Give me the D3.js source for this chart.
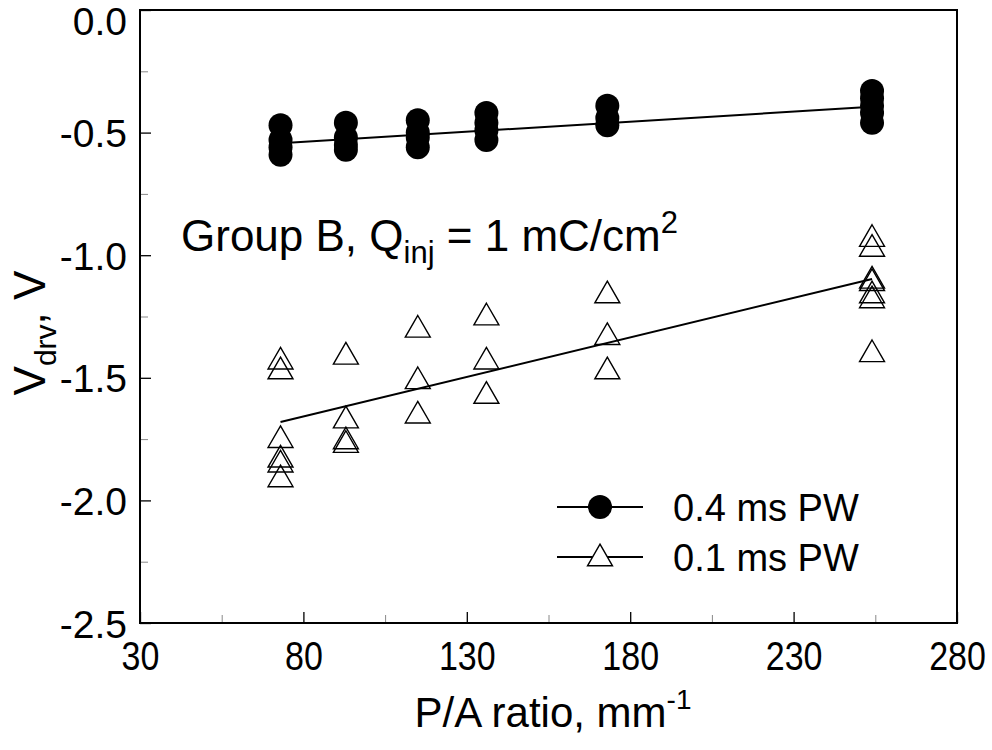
<!DOCTYPE html>
<html><head><meta charset="utf-8">
<script src="https://cdn.jsdelivr.net/npm/d3@7"></script>
<style>
body{margin:0;background:#fff}
text{font-family:"Liberation Sans",Arial,Helvetica,sans-serif;fill:#000}
</style>
</head><body>
<svg id="chart" width="992" height="750"></svg>
<script>
// ---- data ----
const xTicks = [30, 80, 130, 180, 230, 280];
const xMinorTicks = [55, 105, 155, 205, 255];
const yTicks = [0, -0.5, -1.0, -1.5, -2.0, -2.5];
const yMinorTicks = [-0.25, -0.75, -1.25, -1.75, -2.25];

const pw04X = [73,73,73,73, 93,93,93,93, 115,115,115,115, 136,136,136,136, 173,173,173, 254,254,254,254,254];
const pw04Y = [-0.47,-0.53,-0.56,-0.59, -0.46,-0.52,-0.55,-0.57, -0.45,-0.50,-0.52,-0.56, -0.42,-0.46,-0.49,-0.53, -0.39,-0.44,-0.47, -0.33,-0.36,-0.39,-0.42,-0.46];

const pw01X = [73,73,73,73,73,73, 93,93,93,93, 115,115,115, 136,136,136, 173,173,173, 254,254,254,254,254,254,254];
const pw01Y = [-1.42,-1.46,-1.74,-1.82,-1.84,-1.90, -1.40,-1.66,-1.745,-1.76, -1.29,-1.50,-1.64, -1.24,-1.42,-1.56, -1.15,-1.32,-1.46, -0.92,-0.96,-1.09,-1.10,-1.15,-1.17,-1.39];

const fitX = [73, 254];
const fit04 = [-0.543, -0.395];
const fit01 = [-1.68, -1.097];

const seriesNames = ["0.4 ms PW", "0.1 ms PW"];

// ---- layout ----
const L = 140, R = 957, T = 10, B = 623;
const svg = d3.select("#chart");
const x = d3.scaleLinear().domain([30, 280]).range([L, R]);
const y = d3.scaleLinear().domain([-2.5, 0]).range([B, T]);

// minor ticks
svg.append("g").attr("transform", `translate(0,${B})`)
  .call(d3.axisBottom(x).tickValues(xMinorTicks).tickSize(-8).tickFormat(""))
  .call(g => g.select(".domain").remove())
  .call(g => g.selectAll("line").attr("stroke", "#888").attr("stroke-width", 1));
svg.append("g").attr("transform", `translate(${L},0)`)
  .call(d3.axisLeft(y).tickValues(yMinorTicks).tickSize(-8).tickFormat(""))
  .call(g => g.select(".domain").remove())
  .call(g => g.selectAll("line").attr("stroke", "#888").attr("stroke-width", 1));

// major ticks
const xAxis = svg.append("g").attr("transform", `translate(0,${B})`)
  .call(d3.axisBottom(x).tickValues(xTicks).tickSize(-11).tickPadding(0).tickFormat(d3.format("d")));
xAxis.select(".domain").remove();
xAxis.selectAll("line").attr("stroke", "#000").attr("stroke-width", 1.3);
xAxis.selectAll("text").attr("font-size", 40).attr("y", 47).attr("dy", null).attr("x", 0)
  .attr("transform", "scale(0.85,1)");

const yAxis = svg.append("g").attr("transform", `translate(${L},0)`)
  .call(d3.axisLeft(y).tickValues(yTicks).tickSize(-11).tickPadding(13).tickFormat(d3.format(".1f")));
yAxis.select(".domain").remove();
yAxis.selectAll("line").attr("stroke", "#000").attr("stroke-width", 1.3);
yAxis.selectAll("text").attr("font-size", 39)
  .attr("dy", d => d === 0 ? "0.64em" : "0.36em")
  .text(d => d3.format(".1f")(d).replace("−", "-"));

// frame
svg.append("rect").attr("x", L).attr("y", T).attr("width", R - L).attr("height", B - T)
  .attr("fill", "none").attr("stroke", "#000").attr("stroke-width", 2);

// fit lines
const line = d3.line().x(d => x(d[0])).y(d => y(d[1]));
svg.append("path").attr("d", line(fitX.map((v,i)=>[v, fit01[i]])))
  .attr("stroke", "#000").attr("stroke-width", 2).attr("fill", "none");
svg.append("path").attr("d", line(fitX.map((v,i)=>[v, fit04[i]])))
  .attr("stroke", "#000").attr("stroke-width", 2).attr("fill", "none");

// triangles
const triSize = 270;
const tri = d3.symbol().type(d3.symbolTriangle).size(triSize);
const triOff = 3.6;
svg.append("g").selectAll("path").data(pw01X.map((v,i)=>[v, pw01Y[i]])).join("path")
  .attr("d", tri)
  .attr("transform", d => `translate(${x(d[0])},${y(d[1]) + triOff})`)
  .attr("fill", "none").attr("stroke", "#000").attr("stroke-width", 1.4);

// circles
svg.append("g").selectAll("circle").data(pw04X.map((v,i)=>[v, pw04Y[i]])).join("circle")
  .attr("cx", d => x(d[0])).attr("cy", d => y(d[1])).attr("r", 12).attr("fill", "#000");

// annotation
const ann = svg.append("text").attr("x", 181).attr("y", 251).attr("font-size", 44);
ann.append("tspan").text("Group B, Q");
ann.append("tspan").attr("font-size", 31).attr("dy", 12).text("inj");
ann.append("tspan").attr("dy", -12).text(" = 1 mC/cm");
ann.append("tspan").attr("font-size", 31).attr("dy", -18).text("2");

// legend
const leg = svg.append("g");
[0,1].forEach(i => {
  const ly = 507 + i * 50;
  leg.append("line").attr("x1", 557).attr("x2", 643).attr("y1", ly).attr("y2", ly)
    .attr("stroke", "#000").attr("stroke-width", 2);
  if (i === 0) {
    leg.append("circle").attr("cx", 600).attr("cy", ly).attr("r", 12).attr("fill", "#000");
  } else {
    leg.append("path").attr("d", tri).attr("transform", `translate(600,${ly + triOff - 2})`)
      .attr("fill", "#fff").attr("stroke", "#000").attr("stroke-width", 1.4);
  }
  leg.append("text").attr("x", 673).attr("y", ly).attr("dy", "0.36em").attr("font-size", 38)
    .text(seriesNames[i]);
});

// axis titles
const xt = svg.append("text").attr("x", 553).attr("y", 727).attr("text-anchor", "middle").attr("font-size", 42);
xt.append("tspan").text("P/A ratio, mm");
xt.append("tspan").attr("font-size", 28).attr("dy", -18).text("-1");

const yt = svg.append("text").attr("transform", "translate(45,333) rotate(-90)").attr("text-anchor", "middle").attr("font-size", 44);
yt.append("tspan").text("V");
yt.append("tspan").attr("font-size", 30).attr("dy", 11).text("drv");
yt.append("tspan").attr("dy", -11).text(", V");
</script>
</body></html>
